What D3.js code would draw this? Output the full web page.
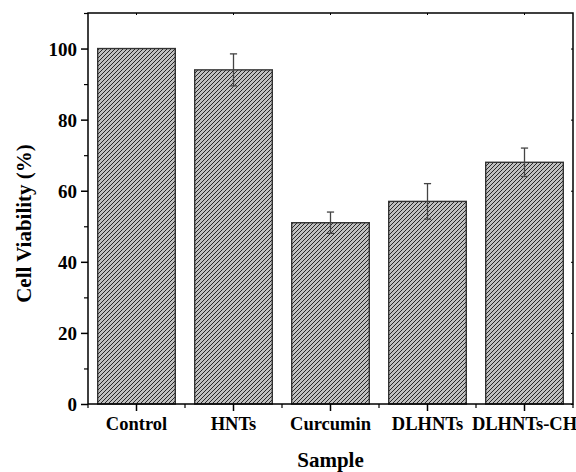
<!DOCTYPE html>
<html>
<head>
<meta charset="utf-8">
<script src="https://cdn.jsdelivr.net/npm/d3@7/dist/d3.min.js"></script>
<style>
  html, body { margin: 0; padding: 0; background: #fff; }
  svg { display: block; }
  svg text { font-family: "Liberation Serif", "Times New Roman", Times, serif !important; font-weight: bold; fill: #000; }
</style>
</head>
<body>
<svg id="chart" width="576" height="472"></svg>
<script>
// Cell viability per sample (mean and error)
const categories = ["Control", "HNTs", "Curcumin", "DLHNTs", "DLHNTs-CH"];
const viability = [100, 94, 51, 57, 68];
const errors = [0, 4.5, 3, 5, 4];
const yTicks = [0, 20, 40, 60, 80, 100];
const yMinorTicks = [10, 30, 50, 70, 90, 110];

const FONT = "'Liberation Serif', 'Times New Roman', Times, serif";
const svg = d3.select("#chart");
const margin = { left: 88, right: 3, top: 13, bottom: 68 };
const W = 576, H = 472;
const x0 = margin.left, x1 = W - margin.right;
const y0 = H - margin.bottom, y1 = margin.top;

const xc = d3.scaleBand().domain(categories).range([x0, x1]).padding(0);
const y = d3.scaleLinear().domain([0, 110]).range([y0, y1]);

// Hatch pattern: grey fill with dark "/" diagonals
const defs = svg.append("defs");
const pat = defs.append("pattern")
  .attr("id", "hatch")
  .attr("patternUnits", "userSpaceOnUse")
  .attr("width", 4).attr("height", 4);
pat.append("rect").attr("width", 4).attr("height", 4).attr("fill", "#c0c0c0");
pat.append("path")
  .attr("d", "M-1,1 L1,-1 M0,4 L4,0 M3,5 L5,3")
  .attr("stroke", "#151515").attr("stroke-width", 0.9);

// Bars
svg.append("g").selectAll("rect")
  .data(categories)
  .join("rect")
  .attr("x", d => xc(d) + xc.bandwidth() * 0.1)
  .attr("width", xc.bandwidth() * 0.8)
  .attr("y", (d, i) => y(viability[i]))
  .attr("height", (d, i) => y(0) - y(viability[i]))
  .attr("fill", "url(#hatch)")
  .attr("stroke", "#333")
  .attr("stroke-width", 1.4);

// Error bars
const eg = svg.append("g").attr("stroke", "#444").attr("stroke-width", 1.3).attr("fill", "none");
categories.forEach((c, i) => {
  if (!errors[i]) return;
  const cx = xc(c) + xc.bandwidth() / 2;
  const top = y(viability[i] + errors[i]);
  const bot = y(viability[i] - errors[i]);
  eg.append("line").attr("x1", cx).attr("x2", cx).attr("y1", top).attr("y2", bot);
  eg.append("line").attr("x1", cx - 3.6).attr("x2", cx + 3.6).attr("y1", top).attr("y2", top);
  eg.append("line").attr("x1", cx - 3.6).attr("x2", cx + 3.6).attr("y1", bot).attr("y2", bot);
});

// Frame
svg.append("rect")
  .attr("x", x0).attr("y", y1)
  .attr("width", x1 - x0).attr("height", y0 - y1)
  .attr("fill", "none").attr("stroke", "#000").attr("stroke-width", 1.5);

// Left axis
const yAxis = d3.axisLeft(y).tickValues(yTicks).tickSize(7).tickPadding(4).tickFormat(d3.format("d"));
const gy = svg.append("g").attr("transform", `translate(${x0},0)`).call(yAxis).attr("font-family", FONT);
gy.select(".domain").remove();
gy.selectAll(".tick line").attr("stroke", "#000").attr("stroke-width", 1.5);
gy.selectAll(".tick text").style("font-size", "19px").attr("dy", "0.34em");
const gym = svg.append("g").attr("transform", `translate(${x0},0)`)
  .call(d3.axisLeft(y).tickValues(yMinorTicks).tickSize(4).tickFormat(""));
gym.select(".domain").remove();
gym.selectAll(".tick line").attr("stroke", "#000").attr("stroke-width", 1.2);

// Right axis: small inward ticks
const gr = svg.append("g").attr("transform", `translate(${x1},0)`)
  .call(d3.axisLeft(y).tickValues(yTicks).tickSize(2).tickFormat(""));
gr.select(".domain").remove();
gr.selectAll(".tick line").attr("stroke", "#000");

// Bottom axis: labels at category centres, minor ticks at band edges
const xAxis = d3.axisBottom(xc).tickSize(7).tickPadding(6);
const gx = svg.append("g").attr("transform", `translate(0,${y0})`).call(xAxis).attr("font-family", FONT);
gx.select(".domain").remove();
gx.selectAll(".tick line").attr("stroke", "#000").attr("stroke-width", 1.5);
gx.selectAll(".tick text").style("font-size", "18.5px");
const edges = categories.map(c => xc(c)).concat([x1]);
svg.append("g").selectAll("line").data(edges).join("line")
  .attr("x1", d => d).attr("x2", d => d)
  .attr("y1", y0).attr("y2", y0 + 4)
  .attr("stroke", "#000").attr("stroke-width", 1.2);

// Top axis: small inward ticks
svg.append("g").selectAll("line").data(categories).join("line")
  .attr("x1", d => xc(d) + xc.bandwidth() / 2).attr("x2", d => xc(d) + xc.bandwidth() / 2)
  .attr("y1", y1).attr("y2", y1 + 2)
  .attr("stroke", "#000");

// Axis titles
svg.append("text")
  .attr("x", (x0 + x1) / 2).attr("y", 467)
  .attr("text-anchor", "middle")
  .attr("font-family", FONT)
  .style("font-size", "21px")
  .text("Sample");
svg.append("text")
  .attr("transform", `translate(31,${(y0 + y1) / 2 + 15}) rotate(-90)`)
  .attr("text-anchor", "middle")
  .attr("font-family", FONT)
  .style("font-size", "21px")
  .text("Cell Viability (%)");
</script>
</body>
</html>
